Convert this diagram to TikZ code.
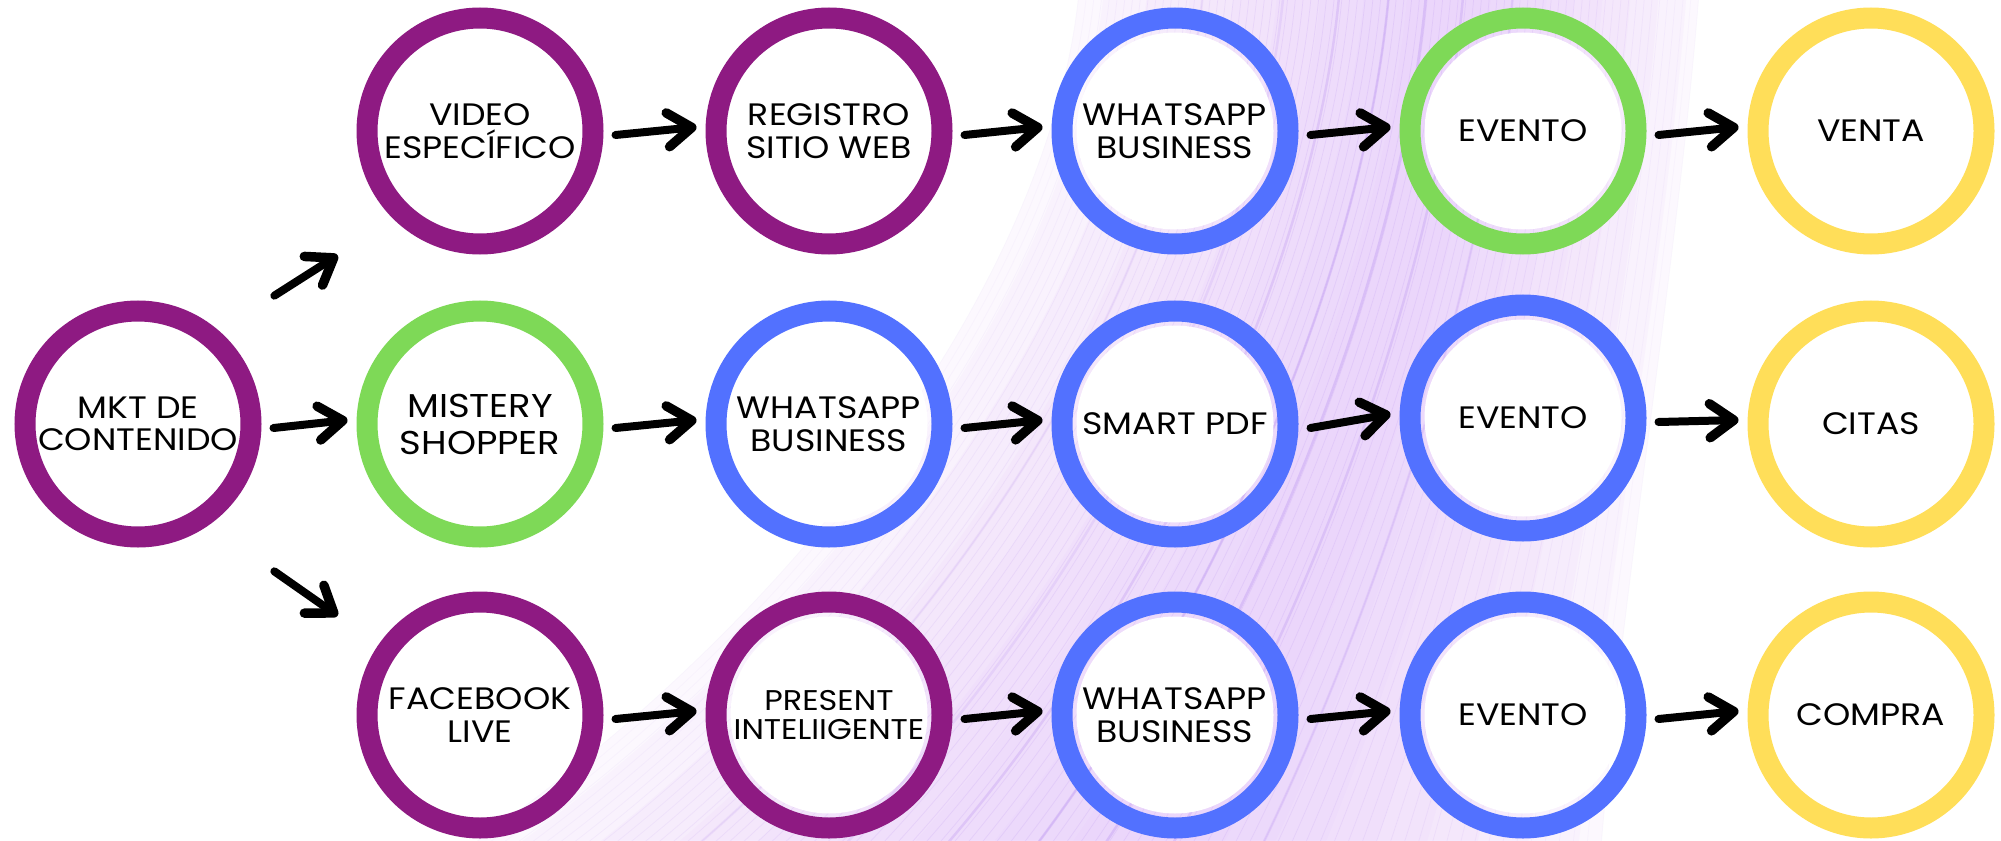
\documentclass[tikz,border=0pt]{standalone}
\usepackage{fontspec}
\setmainfont[FakeStretch=1.12]{Poppins}
\usetikzlibrary{arrows.meta,calc}
\definecolor{cpurple}{HTML}{8E1A82}
\definecolor{cgreen}{HTML}{7ED957}
\definecolor{cblue}{HTML}{5271FF}
\definecolor{cyellow}{HTML}{FFDE59}
\definecolor{lav}{HTML}{E4C4FB}
\definecolor{violetstrand}{HTML}{B58CF0}
\tikzset{
  ring/.style={circle, minimum size=226pt, line width=21pt, inner sep=0pt,
    path picture={\fill[white] (path picture bounding box.center) circle[radius=98.5pt];},
    align=center, text=black, font=\fontsize{31}{32.5}\selectfont},
  pur/.style={ring, draw=cpurple},
  grn/.style={ring, draw=cgreen},
  blu/.style={ring, draw=cblue},
  yel/.style={ring, draw=cyellow},
  flow/.style={line width=8pt, line cap=round, draw=black,
    -{Straight Barb[length=24pt,width=34pt,line width=9.5pt,round]}},
}
\begin{document}
\begin{tikzpicture}[x=1pt,y=-1pt]
\useasboundingbox (0,0) rectangle (2001,840);
\fill[white] (0,0) rectangle (2001,840);
% background swirl
\begin{scope}
\clip (0,0) rectangle (2001,840);
\foreach \j in {1,...,9}{
  \pgfmathsetmacro\lo{max(0,0.6-0.07*\j)}
  \pgfmathsetmacro\hi{min(1,0.62+0.045*\j)}
  \pgfmathsetmacro\xaL{450+1150*\lo}
  \pgfmathsetmacro\xdL{1080+620*\lo}
  \pgfmathsetmacro\xbL{\xaL+380*(1-\lo)+20*\lo}
  \pgfmathsetmacro\xaH{450+1150*\hi}
  \pgfmathsetmacro\xdH{1080+620*\hi}
  \pgfmathsetmacro\xbH{\xaH+380*(1-\hi)+20*\hi}
  \fill[lav, opacity=0.11] (\xaL,860) .. controls (\xbL,600) and (\xdL-20,250) .. (\xdL,-20)
     -- (\xdH,-20) .. controls (\xdH-20,250) and (\xbH,600) .. (\xaH,860) -- cycle;
}
\foreach \i in {0,...,80}{
  \pgfmathsetmacro\k{\i/80}
  \pgfmathsetmacro\xa{450+1150*\k}
  \pgfmathsetmacro\xd{1080+620*\k}
  \pgfmathsetmacro\xb{\xa+380*(1-\k)+20*\k}
  \pgfmathsetmacro\opc{0.05+0.55*\k*(1-\k)}
  \draw[violetstrand, line width=0.7pt, opacity=\opc] (\xa,860) .. controls (\xb,600) and (\xd-20,250) .. (\xd,-20);
}
\foreach \k/\o in {0.2/0.12,0.33/0.18,0.42/0.28,0.5/0.32,0.56/0.32,0.62/0.28,0.7/0.2}{
  \pgfmathsetmacro\xa{450+1150*\k}
  \pgfmathsetmacro\xd{1080+620*\k}
  \pgfmathsetmacro\xb{\xa+380*(1-\k)+20*\k}
  \draw[violetstrand, line width=2.5pt, opacity=\o] (\xa,860) .. controls (\xb,600) and (\xd-20,250) .. (\xd,-20);
}
\end{scope}
% nodes
\node[pur] (mkt) at (138,424) {MKT DE\\CONTENIDO};
\node[pur] (vid) at (480,131) {VIDEO\\ESPECÍFICO};
\node[pur] (reg) at (829,131) {REGISTRO\\SITIO WEB};
\node[blu] (wa1) at (1175,131) {WHATSAPP\\BUSINESS};
\node[grn] (ev1) at (1523,131) {EVENTO};
\node[yel] (ven) at (1871,131) {VENTA};
\node[grn, font=\fontsize{33}{37}\selectfont] (mis) at (480,424) {MISTERY\\SHOPPER};
\node[blu] (wa2) at (829,424) {WHATSAPP\\BUSINESS};
\node[blu] (pdf) at (1175,424) {SMART PDF};
\node[blu] (ev2) at (1523,418) {EVENTO};
\node[yel] (cit) at (1871,424) {CITAS};
\node[pur] (fb) at (480,715) {FACEBOOK\\LIVE};
\node[pur, font=\fontsize{28.5}{29}\selectfont] (pre) at (829,715) {PRESENT\\INTELIIGENTE};
\node[blu] (wa3) at (1175,715) {WHATSAPP\\BUSINESS};
\node[blu] (ev3) at (1523,715) {EVENTO};
\node[yel] (com) at (1871,715) {COMPRA};
% connectors
\draw[flow] ([shift={(49,-41)}]mkt.north east) -- ([shift={(-55,37)}]vid.south west);
\draw[flow] ([shift={(49,60)}]mkt.south east) -- ([shift={(-55,-12)}]fb.north west);
\foreach \a/\b in {mkt/mis, vid/reg, reg/wa1, wa1/ev1, ev1/ven, mis/wa2, wa2/pdf, pdf/ev2, ev2/cit, fb/pre, pre/wa3, wa3/ev3, ev3/com}{
  \draw[flow] ([shift={(12,4)}]\a.east) -- ([shift={(-9,-4)}]\b.west);
}
\end{tikzpicture}
\end{document}
